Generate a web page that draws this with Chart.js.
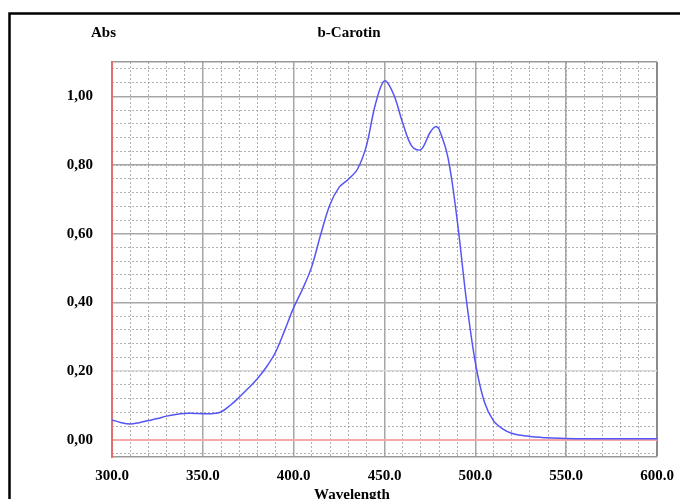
<!DOCTYPE html>
<html>
<head>
<meta charset="utf-8">
<script src="https://cdn.jsdelivr.net/npm/chart.js@4.4.1/dist/chart.umd.min.js"></script>
<style>
  html, body { margin: 0; padding: 0; background: #fff; }
  canvas { display: block; }
</style>
</head>
<body>
<canvas id="spectrum" width="680" height="499"></canvas>
<script>
// b-Carotin absorption spectrum
const wavelengths = [300, 305, 310, 315, 320, 325, 330, 335, 340, 345, 350, 355, 360, 365, 370, 375,
  380, 385, 390, 395, 400, 405, 410, 415, 420, 425, 430, 435, 440, 445, 450, 455, 460, 465, 470,
  475, 478, 480, 485, 490, 495, 500, 505, 510, 515, 520, 525, 530, 540, 550, 560, 570, 580, 590, 600];
const absorbance = [0.058, 0.050, 0.046, 0.050, 0.056, 0.062, 0.069, 0.074, 0.077, 0.077, 0.076, 0.076,
  0.081, 0.100, 0.124, 0.150, 0.178, 0.212, 0.255, 0.318, 0.385, 0.440, 0.505, 0.600, 0.685, 0.735,
  0.758, 0.787, 0.855, 0.977, 1.045, 1.006, 0.923, 0.855, 0.845, 0.894, 0.912, 0.905, 0.820, 0.640,
  0.410, 0.225, 0.110, 0.055, 0.032, 0.019, 0.013, 0.010, 0.006, 0.004, 0.003, 0.003, 0.003, 0.003, 0.003];

const xTicks = [300, 350, 400, 450, 500, 550, 600];
const yTicks = [0, 0.2, 0.4, 0.6, 0.8, 1.0];
const xMinorStep = 10;
const yMinorStep = 0.04;

const X_MIN = 300, X_MAX = 600;
const Y_MIN = -0.05, Y_MAX = 1.10;

const labelFont = { family: '"Liberation Serif", "Times New Roman", serif', size: 15, weight: 'bold' };

function range(from, to, step) {
  const out = [];
  for (let v = from; v <= to + 1e-9; v += step) out.push(Math.round(v * 1000) / 1000);
  return out;
}

// outer frame and the free-standing captions
const framePlugin = {
  id: 'frame',
  beforeDraw(chart) {
    const c = chart.ctx;
    c.save();
    c.fillStyle = '#fff';
    c.fillRect(0, 0, chart.width, chart.height);
    c.strokeStyle = '#000';
    c.lineWidth = 2.5;
    c.strokeRect(9.5, 13.5, chart.width + 20, chart.height + 20);
    c.restore();
  },
  afterDraw(chart) {
    const c = chart.ctx;
    c.save();
    c.fillStyle = '#000';
    c.font = 'bold 15px "Liberation Serif", serif';
    c.textAlign = 'center';
    c.textBaseline = 'alphabetic';
    c.fillText('Abs', 103.5, 36.5);
    c.fillText('b-Carotin', 349, 36.5);
    c.fillText('Wavelength', 352, 499);
    c.restore();
  }
};

const minorGrid = {
  color: 'rgba(150,150,150,0.75)',
  lineWidth: 1,
  drawTicks: false,
  borderDash: [2, 2]
};

new Chart(document.getElementById('spectrum'), {
  type: 'line',
  data: {
    datasets: [{
      label: 'b-Carotin',
      data: wavelengths.map((w, i) => ({ x: w, y: absorbance[i] })),
      borderColor: '#5555f5',
      borderWidth: 1.5,
      backgroundColor: 'transparent',
      pointRadius: 0,
      tension: 0.35,
      fill: false
    }]
  },
  options: {
    responsive: false,
    animation: false,
    layout: { padding: { left: 0, right: 23, top: 62, bottom: 0 } },
    plugins: {
      legend: { display: false },
      tooltip: { enabled: false }
    },
    scales: {
      xMinor: {
        type: 'linear',
        position: 'bottom',
        min: X_MIN,
        max: X_MAX,
        z: -1,
        afterBuildTicks: s => { s.ticks = range(X_MIN, X_MAX, xMinorStep).map(v => ({ value: v })); },
        afterFit: s => { s.height = 0; },
        ticks: { display: false },
        grid: minorGrid,
        border: { display: false, dash: [2, 2] }
      },
      yMinor: {
        type: 'linear',
        position: 'left',
        min: Y_MIN,
        max: Y_MAX,
        z: -1,
        afterBuildTicks: s => { s.ticks = range(-0.04, 1.08, yMinorStep).map(v => ({ value: v })); },
        afterFit: s => { s.width = 0; },
        ticks: { display: false },
        grid: minorGrid,
        border: { display: false, dash: [2, 2] }
      },
      x: {
        type: 'linear',
        position: 'bottom',
        min: X_MIN,
        max: X_MAX,
        afterBuildTicks: s => { s.ticks = xTicks.map(v => ({ value: v })); },
        afterFit: s => {
          s.height = 42;
          // labels may overhang the plot edges; keep the plot width fixed
          s.paddingLeft = 0;
          s.paddingRight = 0;
        },
        ticks: {
          color: '#000',
          font: labelFont,
          padding: 10,
          maxRotation: 0,
          callback: v => v.toFixed(1)
        },
        grid: {
          drawTicks: false,
          lineWidth: ctx => ctx.tick && ctx.tick.value === 600 ? 2 : 1.5,
          color: ctx => {
            if (!ctx.tick) return '#a6a6a6';
            if (ctx.tick.value === 300) return '#e07070';
            if (ctx.tick.value === 600) return '#8a8a8a';
            return '#a6a6a6';
          }
        },
        border: { color: '#999', width: 1.5 }
      },
      y: {
        type: 'linear',
        position: 'left',
        min: Y_MIN,
        max: Y_MAX,
        afterBuildTicks: s => { s.ticks = yTicks.concat([Y_MAX]).map(v => ({ value: v })); },
        afterFit: s => {
          s.width = 112;
          s.paddingTop = 0;
          s.paddingBottom = 0;
        },
        ticks: {
          color: '#000',
          font: labelFont,
          padding: 19,
          callback: v => (v > 1.05 ? '' : v.toFixed(2).replace('.', ','))
        },
        grid: {
          drawTicks: false,
          lineWidth: ctx => (ctx.tick && ctx.tick.value === 0 ? 2 : 1.5),
          color: ctx => {
            if (!ctx.tick) return '#a6a6a6';
            const v = Math.round(ctx.tick.value * 100) / 100;
            if (v === 0) return '#f4a8a8';
            if (v === 0.2) return '#dadada';
            if (v > 1.05) return '#999';
            return '#a6a6a6';
          }
        },
        border: { color: '#e07070', width: 2 }
      }
    }
  },
  plugins: [framePlugin]
});
</script>
</body>
</html>
